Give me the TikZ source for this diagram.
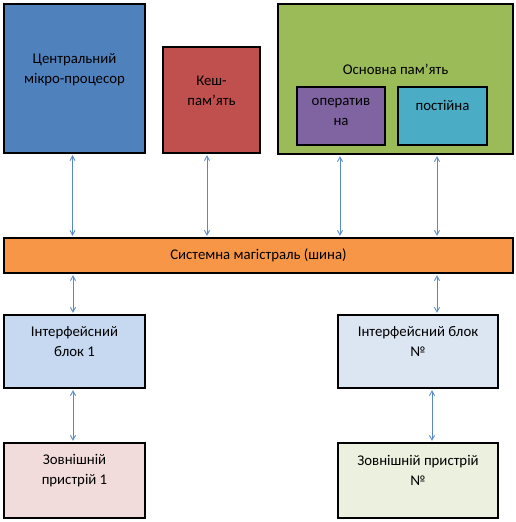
\documentclass[tikz,border=0pt]{standalone}
\usepackage{fontspec}
\setmainfont{Carlito}
\usepackage{xcolor}
\usepackage{tikz}
\usetikzlibrary{positioning,arrows.meta,calc}
\definecolor{cpublue}{HTML}{4F81BD}
\definecolor{cachered}{HTML}{C0504D}
\definecolor{memgreen}{HTML}{9BBB59}
\definecolor{ramviolet}{HTML}{8064A2}
\definecolor{romaqua}{HTML}{4BACC6}
\definecolor{busorange}{HTML}{F79646}
\definecolor{ifaceone}{HTML}{C6D9F1}
\definecolor{ifacen}{HTML}{DCE6F2}
\definecolor{devone}{HTML}{F2DCDB}
\definecolor{devn}{HTML}{EBF1DE}
\definecolor{linkblue}{HTML}{5A8AC6}
\tikzset{
unit/.style={
draw=black,
line width=2.4pt,
inner sep=0pt
},
caption/.style={
align=center,
inner sep=0pt,
font=\fontsize{14.8}{20}\selectfont
},
arrow/.style={
{Straight Barb[length=1.6mm,width=1.8mm]}-{Straight Barb[length=1.6mm,width=1.8mm]},
draw=linkblue,
line width=0.9pt,
shorten <=1pt,
shorten >=1pt
}
}
\begin{document}
\begin{tikzpicture}[x=1pt,y=-1pt]
\useasboundingbox (0,0) rectangle (516,522);
\node[unit,fill=cpublue,minimum width=141pt,minimum height=149pt] (cpu) at (74.5,78.5) {};
\node[unit,fill=cachered,minimum width=97pt,minimum height=106pt] (cache) at (211.5,100) {};
\node[unit,fill=memgreen,minimum width=235pt,minimum height=150pt] (mem) at (395.5,79) {};
\node[unit,fill=ramviolet,minimum width=88pt,minimum height=58pt] (ram) at (341,116) {};
\node[unit,fill=romaqua,minimum width=89pt,minimum height=58pt] (rom) at (442.5,116) {};
\node[unit,fill=busorange,minimum width=509pt,minimum height=35pt] (bus) at (258.5,255.5) {};
\node[unit,fill=ifaceone,minimum width=141pt,minimum height=73pt] (ifone) at (74.5,351.5) {};
\node[unit,fill=ifacen,minimum width=160pt,minimum height=73pt] (ifn) at (418,351.5) {};
\node[unit,fill=devone,minimum width=141pt,minimum height=75pt] (devone) at (74.5,480.5) {};
\node[unit,fill=devn,minimum width=160pt,minimum height=75pt] (devn) at (418,480.5) {};

% texts
\node[caption] (cpulbl) at ($(cpu.north)+(0,67)$) {Центральний\\мікро-процесор};
\node[caption] (cachelbl) at ($(cache.north)+(0,45)$) {Кеш-\\пам’ять};
\node[caption] (memlbl) at ($(mem.north)+(0,67)$) {Основна пам’ять};
\node[caption] (ramlbl) at ($(ram.north)+(0,26)$) {оператив\\на};
\node[caption] (romlbl) at ($(rom.north)+(0,20)$) {постійна};
\node[caption] (buslbl) at (bus) {Системна магістраль (шина)};
\node[caption] (ifonelbl) at ($(ifone.north)+(0,28)$) {Інтерфейсний\\блок 1};
\node[caption] (ifnlbl) at ($(ifn.north)+(0,28)$) {Інтерфейсний блок\\№};
\node[caption] (devonelbl) at ($(devone.north)+(0,29)$) {Зовнішній\\пристрій 1};
\node[caption] (devnlbl) at ($(devn.north)+(0,29)$) {Зовнішній пристрій\\№};

% links
\draw[arrow] ([xshift=-2pt]cpu.south) -- ([xshift=-2pt]cpu.south |- bus.north);
\draw[arrow] ([xshift=-4.5pt]cache.south) -- ([xshift=-4.5pt]cache.south |- bus.north);
\draw[arrow] ([xshift=-1pt]ram.south |- mem.south) -- ([xshift=-1pt]ram.south |- bus.north);
\draw[arrow] ([xshift=-5.5pt]rom.south |- mem.south) -- ([xshift=-5.5pt]rom.south |- bus.north);
\draw[arrow] ([xshift=-1.5pt]ifone.north |- bus.south) -- ([xshift=-1.5pt]ifone.north);
\draw[arrow] ([xshift=19pt]ifn.north |- bus.south) -- ([xshift=19pt]ifn.north);
\draw[arrow] ([xshift=-1.5pt]ifone.south) -- ([xshift=-1.5pt]devone.north);
\draw[arrow] ([xshift=14pt]ifn.south) -- ([xshift=14pt]devn.north);
\end{tikzpicture}
\end{document}
